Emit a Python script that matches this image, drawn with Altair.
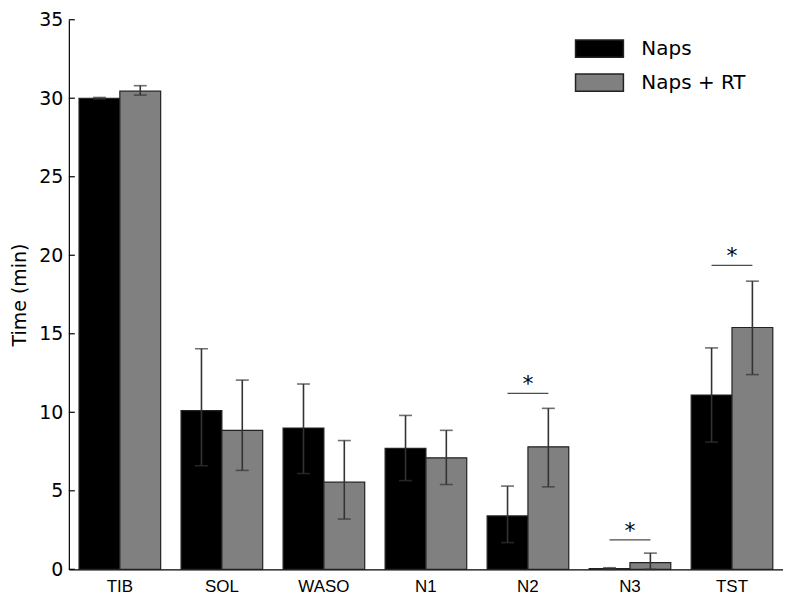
import altair as alt
import pandas as pd

cats = ["TIB", "SOL", "WASO", "N1", "N2", "N3", "TST"]
groups = ["Naps", "Naps + RT"]

naps = [30.0, 10.1, 9.0, 7.7, 3.4, 0.05, 11.1]
naps_lo = [29.95, 6.6, 6.1, 5.65, 1.7, 0.0, 8.1]
naps_hi = [30.05, 14.05, 11.8, 9.8, 5.3, 0.1, 14.1]

rt = [30.45, 8.85, 5.55, 7.1, 7.8, 0.43, 15.4]
rt_lo = [30.2, 6.3, 3.2, 5.4, 5.25, 0.0, 12.4]
rt_hi = [30.8, 12.05, 8.2, 8.85, 10.25, 1.03, 18.35]

sig_cats = ["N2", "N3", "TST"]
sig_y = [11.2, 1.87, 19.35]

y_ticks = [0, 5, 10, 15, 20, 25, 30, 35]

rows = []
for i, c in enumerate(cats):
    rows.append({"cat": c, "grp": groups[0], "val": naps[i], "lo": naps_lo[i], "hi": naps_hi[i]})
    rows.append({"cat": c, "grp": groups[1], "val": rt[i], "lo": rt_lo[i], "hi": rt_hi[i]})
df = pd.DataFrame(rows)
sig = pd.DataFrame({"cat": sig_cats, "y": sig_y, "star": ["*"] * len(sig_cats)})
ticks = pd.DataFrame({"t": y_ticks})

W, H = 716, 551

xscale = alt.Scale(domain=cats, paddingInner=0.2, paddingOuter=0.1)
yscale = alt.Scale(domain=[0, 35], nice=False, zero=True)
offscale = alt.Scale(domain=groups, paddingInner=0, paddingOuter=0)

x_enc = alt.X("cat:N", scale=xscale, sort=cats,
              axis=alt.Axis(title=None, labelAngle=0, ticks=False, labelPadding=9,
                            labelFont="Liberation Sans", labelFontSize=17,
                            labelColor="#000", domainColor="#000", domainWidth=1.2))

bars = alt.Chart(df).mark_bar(stroke="#222", strokeWidth=1.2).encode(
    x=x_enc,
    xOffset=alt.XOffset("grp:N", scale=offscale, sort=groups),
    y=alt.Y("val:Q", scale=yscale,
            axis=alt.Axis(title="Time (min)", values=y_ticks, ticks=False, grid=False,
                          labelFont="DejaVu Sans", labelFontSize=19, labelColor="#000",
                          labelPadding=6, titleFont="DejaVu Sans", titleFontSize=19,
                          titleFontWeight="normal", titleColor="#000", titlePadding=9,
                          domainColor="#000", domainWidth=1.2)),
    color=alt.Color("grp:N", sort=groups,
                    scale=alt.Scale(domain=groups, range=["#000000", "#808080"]),
                    legend=alt.Legend(title=None, orient="none", legendX=519, legendY=16,
                                      symbolType="M-2,-0.72L2,-0.72L2,0.72L-2,0.72Z",
                                      symbolSize=576, symbolStrokeColor="#222",
                                      symbolStrokeWidth=1.5, symbolOpacity=1,
                                      labelFont="DejaVu Sans", labelFontSize=20,
                                      labelColor="#000", rowPadding=9, labelOffset=29)),
)

err = alt.Chart(df).mark_rule(color="#333", strokeWidth=1.6).encode(
    x=alt.X("cat:N", scale=xscale, sort=cats),
    xOffset=alt.XOffset("grp:N", scale=offscale, sort=groups),
    y=alt.Y("lo:Q", scale=yscale),
    y2="hi:Q",
)
cap_lo = alt.Chart(df).mark_tick(color="#333", orient="horizontal", size=13, thickness=1.6).encode(
    x=alt.X("cat:N", scale=xscale, sort=cats),
    xOffset=alt.XOffset("grp:N", scale=offscale, sort=groups),
    y=alt.Y("lo:Q", scale=yscale),
)
cap_hi = alt.Chart(df).mark_tick(color="#333", orient="horizontal", size=13, thickness=1.6).encode(
    x=alt.X("cat:N", scale=xscale, sort=cats),
    xOffset=alt.XOffset("grp:N", scale=offscale, sort=groups),
    y=alt.Y("hi:Q", scale=yscale),
)

sig_line = alt.Chart(sig).mark_tick(color="#000", orient="horizontal", size=41, thickness=1.2).encode(
    x=alt.X("cat:N", scale=xscale, sort=cats),
    y=alt.Y("y:Q", scale=yscale),
)
sig_star = alt.Chart(sig).mark_text(font="DejaVu Sans", fontSize=22, color="#000",
                                    baseline="alphabetic", dy=-2).encode(
    x=alt.X("cat:N", scale=xscale, sort=cats),
    y=alt.Y("y:Q", scale=yscale),
    text="star:N",
)

yticks = alt.Chart(ticks).mark_rule(color="#000", strokeWidth=1.2).encode(
    x=alt.value(0), x2=alt.value(6),
    y=alt.Y("t:Q", scale=yscale),
)

chart = alt.layer(bars, err, cap_lo, cap_hi, sig_line, sig_star, yticks).properties(
    width=W, height=H, padding={"left": 2, "top": 2, "right": 0, "bottom": 0}
).configure_view(stroke=None).configure_axisX(domain=True)

chart.save("out.html", embed_options={"renderer": "svg", "actions": False})
